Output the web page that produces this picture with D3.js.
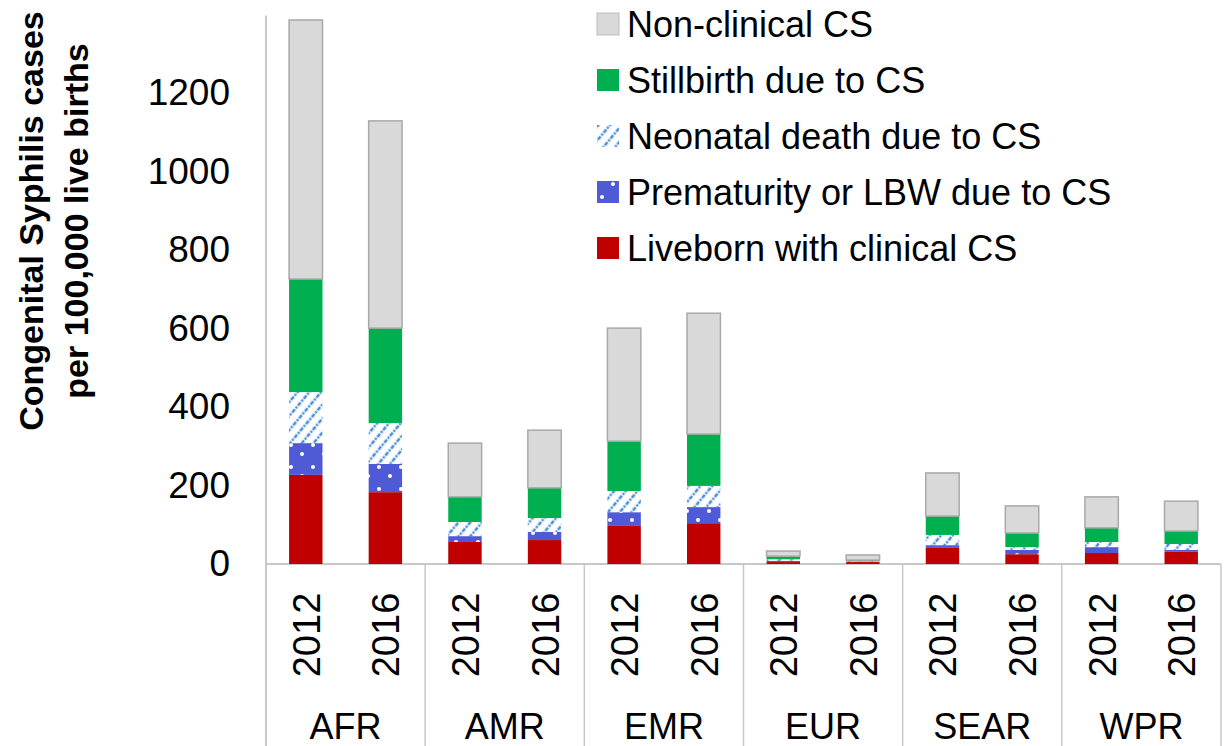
<!DOCTYPE html>
<html>
<head>
<meta charset="utf-8">
<script src="https://cdn.jsdelivr.net/npm/d3@7"></script>
<style>
  html, body { margin: 0; padding: 0; background: #fff; }
  svg { display: block; font-family: "Liberation Sans", Arial, sans-serif; }
</style>
</head>
<body>
<svg id="chart" width="1228" height="746"></svg>
<script>
// ---- data ----
const regions = ["AFR", "AMR", "EMR", "EUR", "SEAR", "WPR"];
const years = ["2012", "2016"];
const seriesNames = ["Liveborn with clinical CS", "Prematurity or LBW due to CS", "Neonatal death due to CS", "Stillbirth due to CS", "Non-clinical CS"];
// order: AFR12, AFR16, AMR12, AMR16, EMR12, EMR16, EUR12, EUR16, SEAR12, SEAR16, WPR12, WPR16
const liveborn    = [227, 183, 56, 61, 97, 104, 5, 5, 41, 25, 28, 31];
const prematurity = [81, 72, 15, 21, 35, 41, 3, 1, 7, 11, 15, 5];
const neonatal    = [130, 104, 36, 35, 54, 54, 4, 1, 26, 7, 13, 15];
const stillbirth  = [288, 242, 64, 77, 127, 132, 8, 3, 48, 36, 36, 33];
const nonclinical = [660, 528, 137, 147, 288, 308, 13, 13, 110, 69, 79, 76];
const yTicks = [0, 200, 400, 600, 800, 1000, 1200];
const yMax = 1400;

// ---- build rows ----
const keys = ["liveborn", "prematurity", "neonatal", "stillbirth", "nonclinical"];
const rows = [];
regions.forEach((r, i) => years.forEach((yr, j) => {
  const k = i * 2 + j;
  rows.push({ id: r + "-" + yr, region: r, year: yr,
    liveborn: liveborn[k], prematurity: prematurity[k], neonatal: neonatal[k],
    stillbirth: stillbirth[k], nonclinical: nonclinical[k] });
}));

const svg = d3.select("#chart");
const plotLeft = 266, plotRight = 1221, plotBase = 564, plotTop = 14.5;

const x = d3.scaleBand().domain(rows.map(d => d.id)).range([plotLeft, plotRight])
  .paddingInner(0.58).paddingOuter(0.29);
const xr = d3.scaleBand().domain(regions).range([plotLeft, plotRight]).padding(0);
const y = d3.scaleLinear().domain([0, yMax]).range([plotBase, plotTop]);

// ---- patterns ----
const defs = svg.append("defs");
const hatch = defs.append("pattern").attr("id", "hatch").attr("patternUnits", "userSpaceOnUse")
  .attr("width", 9).attr("height", 9).attr("patternTransform", "rotate(40)");
hatch.append("rect").attr("width", 9).attr("height", 9).attr("fill", "#fff");
hatch.append("line").attr("x1", 3).attr("y1", 0).attr("x2", 3).attr("y2", 9)
  .attr("stroke", "#4a8fd8").attr("stroke-width", 2.6).attr("stroke-dasharray", "2.2,1.3");

const dots = defs.append("pattern").attr("id", "dots").attr("patternUnits", "userSpaceOnUse")
  .attr("width", 22).attr("height", 22);
dots.append("rect").attr("width", 22).attr("height", 22).attr("fill", "#4f5ad6");
dots.append("circle").attr("cx", 5).attr("cy", 5).attr("r", 2).attr("fill", "#fff");
dots.append("circle").attr("cx", 16).attr("cy", 14).attr("r", 2).attr("fill", "#fff");

const fills = {
  liveborn: "#c00000",
  prematurity: "url(#dots)",
  neonatal: "url(#hatch)",
  stillbirth: "#00b050",
  nonclinical: "#d9d9d9"
};

// ---- axis lines / separators ----
const lineColor = "#c8c8c8";
svg.append("line").attr("x1", plotLeft).attr("x2", plotLeft).attr("y1", y(yMax) + 1).attr("y2", 746)
  .attr("stroke", lineColor).attr("stroke-width", 2);
svg.append("line").attr("x1", plotLeft).attr("x2", plotRight).attr("y1", plotBase).attr("y2", plotBase)
  .attr("stroke", lineColor).attr("stroke-width", 2);
regions.forEach(r => {
  const xx = xr(r) + xr.bandwidth();
  svg.append("line").attr("x1", xx).attr("x2", xx).attr("y1", plotBase).attr("y2", 746)
    .attr("stroke", lineColor).attr("stroke-width", 1.5);
});

// ---- stacked bars ----
const stack = d3.stack().keys(keys)(rows);
svg.append("g").selectAll("g").data(stack).join("g")
  .attr("fill", d => fills[d.key])
  .selectAll("rect").data(d => d.map(v => Object.assign(v, { key: d.key }))).join("rect")
  .attr("x", d => x(d.data.id))
  .attr("width", x.bandwidth())
  .attr("y", d => y(d[1]))
  .attr("height", d => Math.max(0, y(d[0]) - y(d[1])))
  .attr("stroke", d => d.key === "nonclinical" ? "#a9a9a9" : "none")
  .attr("stroke-width", d => d.key === "nonclinical" ? 1.5 : 0);

// ---- y axis ----
const yAxis = d3.axisLeft(y).tickValues(yTicks).tickSize(0).tickPadding(36).tickFormat(d3.format("d"));
const gy = svg.append("g").attr("transform", `translate(${plotLeft},0)`).call(yAxis);
gy.select(".domain").remove();
gy.selectAll("text").attr("font-size", 37).attr("fill", "#000")
  .attr("font-family", '"Liberation Sans", Arial, sans-serif');

// ---- x axis labels (years) ----
svg.append("g").selectAll("text").data(rows).join("text")
  .attr("transform", d => `translate(${x(d.id) + x.bandwidth() / 2 + 14},635) rotate(-90)`)
  .attr("text-anchor", "middle")
  .attr("font-size", 38).attr("fill", "#000")
  .text(d => d.year);

// ---- region labels ----
svg.append("g").selectAll("text").data(regions).join("text")
  .attr("x", d => xr(d) + xr.bandwidth() / 2)
  .attr("y", 739)
  .attr("text-anchor", "middle")
  .attr("font-size", 36).attr("fill", "#000")
  .text(d => d);

// ---- y title ----
const yt = svg.append("text").attr("transform", "translate(0,221) rotate(-90)")
  .attr("text-anchor", "middle").attr("font-weight", "bold").attr("font-size", 34).attr("fill", "#000");
yt.append("tspan").attr("x", 0).attr("y", 43).text("Congenital Syphilis cases");
yt.append("tspan").attr("x", 0).attr("y", 88).text("per 100,000 live births");

// ---- legend ----
const legendOrder = ["nonclinical", "stillbirth", "neonatal", "prematurity", "liveborn"];
const legendLabels = {
  nonclinical: seriesNames[4], stillbirth: seriesNames[3], neonatal: seriesNames[2],
  prematurity: seriesNames[1], liveborn: seriesNames[0]
};
const lg = svg.append("g").selectAll("g").data(legendOrder).join("g")
  .attr("transform", (d, i) => `translate(597,${24 + i * 56})`);
lg.append("rect").attr("x", 0).attr("y", -11).attr("width", 22).attr("height", 22)
  .attr("fill", d => fills[d])
  .attr("stroke", d => d === "nonclinical" ? "#c4c4c4" : "none").attr("stroke-width", 1.2);
lg.append("text").attr("x", 30).attr("dy", "0.35em").attr("font-size", 36).attr("fill", "#000")
  .text(d => legendLabels[d]);
</script>
</body>
</html>
